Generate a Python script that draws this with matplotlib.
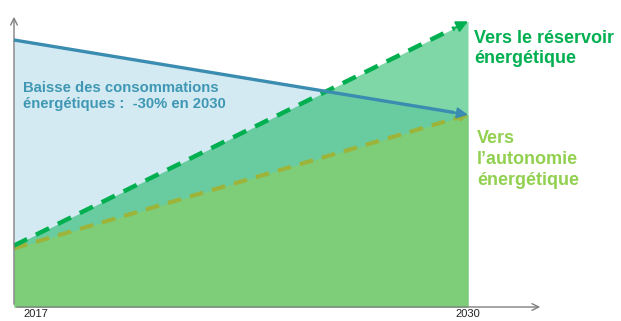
import matplotlib
matplotlib.use("Agg")
import matplotlib.pyplot as plt
import numpy as np

# Data
years = [2017, 2030]
consommation = [100, 72]      # baisse des consommations (-30%)
reservoir = [23, 107]         # vers le réservoir énergétique
autonomie = [22, 72]          # vers l'autonomie énergétique
tick_labels = ["2017", "2030"]

FONT = "Liberation Sans"
C_BLUE = "#3a8cb0"
C_BLUE_TXT = "#3f97b4"
C_BLUE_FILL = "#d3eaf2"
C_RES = "#00b050"
C_AUT_FILL = "#7ecd78"
C_AUT_LINE = "#9cb43a"
C_AUT_TXT = "#92d050"
C_AX = "#808080"

W, H = 621, 321
fig = plt.figure(figsize=(W / 100, H / 100), dpi=100)
ax = fig.add_axes([0, 0, 1, 1])
ax.set_axis_off()

# pixel mapping
px_per_year = (468 - 14) / (years[1] - years[0])
px_per_unit = 2.67
x0 = years[0] - 14 / px_per_year
x1 = years[0] + (W - 14) / px_per_year
y0 = -14 / px_per_unit
y1 = (H - 14) / px_per_unit
ax.set_xlim(x0, x1)
ax.set_ylim(y0, y1)

# fills
ax.fill_between(years, 0, consommation, color=C_BLUE_FILL, lw=0, zorder=1)
ax.fill_between(years, 0, reservoir, color=C_RES, alpha=0.5, lw=0, zorder=2)
ax.fill_between(years, 0, autonomie, color=C_AUT_FILL, lw=0, zorder=3)

# axes arrows
ytop = (307 - 14) / px_per_unit
xright = years[0] + (543 - 14) / px_per_year
ax.annotate("", xy=(years[0], ytop), xytext=(years[0], 0),
            arrowprops=dict(arrowstyle="->", color=C_AX, lw=1.0, mutation_scale=12), zorder=6)
ax.annotate("", xy=(xright, 0), xytext=(years[0], 0),
            arrowprops=dict(arrowstyle="->", color=C_AX, lw=1.0, mutation_scale=12), zorder=6)

def head(xs, ys, color, lw, ms, z):
    xs = np.asarray(xs, float); ys = np.asarray(ys, float)
    t = 0.97
    xt = xs[0] + (xs[1] - xs[0]) * t
    yt = ys[0] + (ys[1] - ys[0]) * t
    ax.annotate("", xy=(xs[1], ys[1]), xytext=(xt, yt),
                arrowprops=dict(arrowstyle="-|>", color=color, lw=lw, mutation_scale=ms,
                                shrinkA=0, shrinkB=0), zorder=z)

# dashed lines
xs = np.array(years, float)
ax.plot(xs, autonomie, color=C_AUT_LINE, lw=3.0, dashes=(3.3, 2.2), zorder=4,
        dash_capstyle="butt")
head(xs, autonomie, C_AUT_LINE, 1.5, 12, 4)
ax.plot([xs[0], xs[0] + (xs[1] - xs[0]) * 0.97],
        [reservoir[0], reservoir[0] + (reservoir[1] - reservoir[0]) * 0.97],
        color=C_RES, lw=3.2, dashes=(3.3, 2.2), zorder=5, dash_capstyle="butt")
head(xs, reservoir, C_RES, 1.5, 17, 5)

# blue line
ax.plot([xs[0], xs[0] + (xs[1] - xs[0]) * 0.97],
        [consommation[0], consommation[0] + (consommation[1] - consommation[0]) * 0.97],
        color=C_BLUE, lw=2.4, zorder=7, solid_capstyle="butt")
head(xs, consommation, C_BLUE, 1.5, 16, 7)

# texts (positions: last-line baseline, in pixels from top-left)
def px(xp, yp):
    return (x0 + xp / px_per_year, (307 - yp) / px_per_unit)

ax.text(*px(23, 108), "Baisse des consommations\nénergétiques :  -30% en 2030",
        fontfamily=FONT, fontweight="bold", fontsize=10.7, color=C_BLUE_TXT,
        ha="left", va="baseline", linespacing=1.15, zorder=8)
ax.text(*px(474, 63), "Vers le réservoir\nénergétique",
        fontfamily=FONT, fontweight="bold", fontsize=13, color=C_RES,
        ha="left", va="baseline", linespacing=1.2, zorder=8)
ax.text(*px(477, 185), "Vers\nl\u2019autonomie\nénergétique",
        fontfamily=FONT, fontweight="bold", fontsize=13, color=C_AUT_TXT,
        ha="left", va="baseline", linespacing=1.32, zorder=8)

# tick labels
ax.text(*px(23, 309), tick_labels[0], fontfamily=FONT, fontsize=8, color="#222222",
        ha="left", va="top", zorder=8)
ax.text(years[1], (307 - 309) / px_per_unit, tick_labels[1], fontfamily=FONT, fontsize=8,
        color="#222222", ha="center", va="top", zorder=8)

fig.savefig("out.png", dpi=100)
